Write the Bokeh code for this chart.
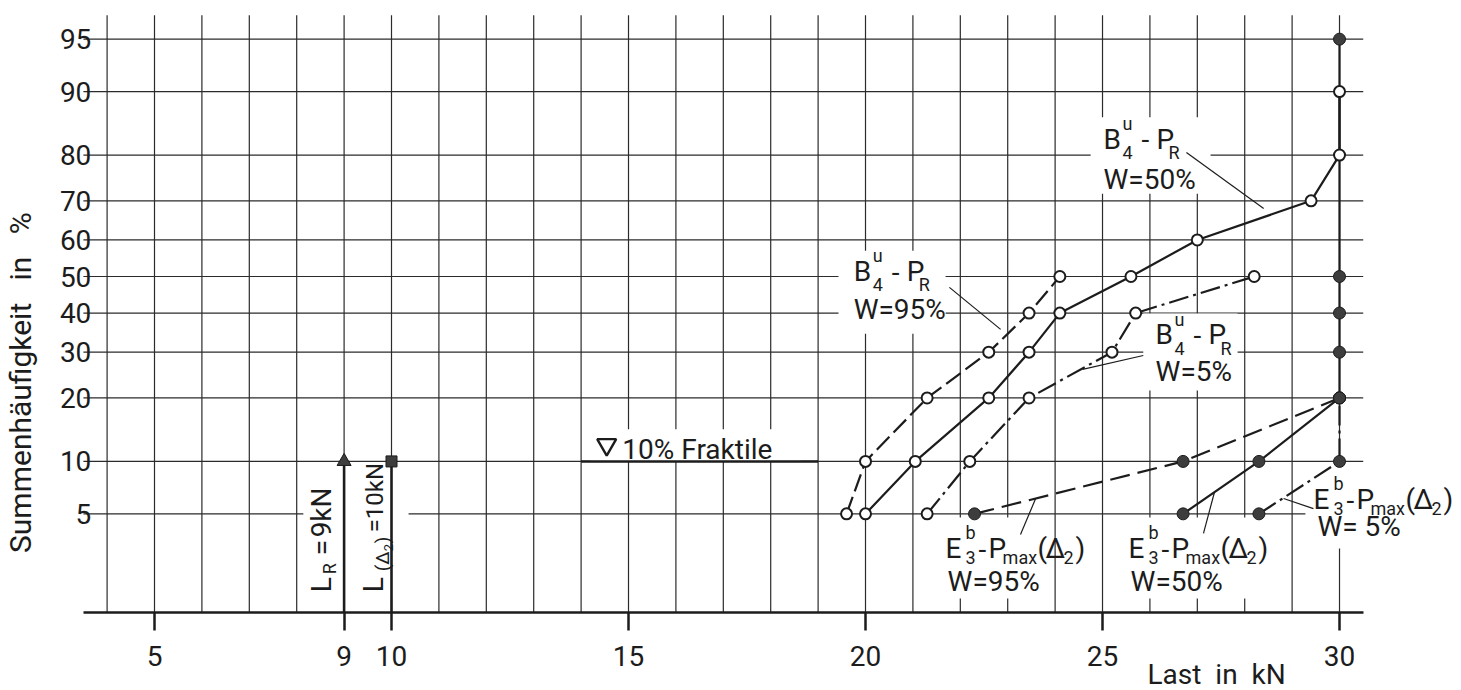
import math
from statistics import NormalDist
from bokeh.plotting import figure
from bokeh.models import Range1d, FixedTicker, CustomJSTickFormatter, Label, BoxAnnotation
from bokeh.embed import file_html
from bokeh.resources import INLINE

# ---------------- data ----------------
x_ticks = [5, 9, 10, 15, 20, 25, 30]
x_grid = list(range(4, 31))
y_tick_pct = [5, 10, 20, 30, 40, 50, 60, 70, 80, 90, 95]
y_tick_labels = ["5", "10", "20", "30", "40", "50", "60", "70", "80", "90", "95"]

# B4u - PR series (open circles)
b4_95_x = [19.6, 20.0, 21.3, 22.6, 23.45, 24.1]
b4_95_p = [5, 10, 20, 30, 40, 50]
b4_50_x = [20.0, 21.05, 22.6, 23.45, 24.1, 25.6, 27.0, 29.4, 30.0, 30.0]
b4_50_p = [5, 10, 20, 30, 40, 50, 60, 70, 80, 90]
b4_5_x = [21.3, 22.2, 23.45, 25.2, 25.7, 28.2]
b4_5_p = [5, 10, 20, 30, 40, 50]

# E3b - Pmax(D2) series (filled circles)
e3_95_x = [22.3, 26.7, 30.0]
e3_95_p = [5, 10, 20]
e3_50_x = [26.7, 28.3, 30.0, 30.0, 30.0, 30.0, 30.0]
e3_50_p = [5, 10, 20, 30, 40, 50, 95]
e3_5_x = [28.3, 30.0, 30.0]
e3_5_p = [5, 10, 20]

# reference loads
L_R = 9
L_D2 = 10
ref_level_pct = 10
fraktile_x = [14, 19]
fraktile_pct = 10

# chart area (kN and %)
x_lo, x_hi = 3.5, 30.5
p_lo = 1.0
z_top = 1.81

FONT = "Roboto"
INK = "#1c1c1c"
GRAY = "#3d3d3d"
NB = "\u00a0"

ND = NormalDist()


def z(pct):
    return ND.inv_cdf(pct / 100.0)


p = figure(width=1456, height=690, output_backend="svg", toolbar_location=None,
           x_range=Range1d(1.7511, 32.468), y_range=Range1d(-2.8690, 1.9127),
           min_border_left=0, min_border_right=0, min_border_top=0, min_border_bottom=0)
p.outline_line_color = None
p.background_fill_color = "white"
p.border_fill_color = "white"
p.xgrid.visible = False
p.ygrid.visible = False

# axes drawn at fixed locations inside the canvas
xa = p.xaxis[0]
xa.fixed_location = z(p_lo)
xa.bounds = (x_lo, x_hi)
xa.ticker = FixedTicker(ticks=x_ticks)
xa.axis_line_width = 2.5
xa.axis_line_color = INK
xa.major_tick_out = 18
xa.major_tick_in = 0
xa.major_tick_line_width = 2.5
xa.major_tick_line_color = INK
xa.minor_tick_out = 0
xa.minor_tick_in = 0
xa.major_label_text_font = FONT
xa.major_label_text_font_size = "28px"
xa.major_label_text_color = INK
xa.major_label_standoff = 16

yz = [z(v) for v in y_tick_pct]
ya = p.yaxis[0]
ya.fixed_location = x_lo + 0.21
ya.ticker = FixedTicker(ticks=yz)
ya.formatter = CustomJSTickFormatter(args=dict(t=yz, l=y_tick_labels), code="""
for (let i = 0; i < t.length; i++) { if (Math.abs(t[i] - tick) < 1e-6) return l[i]; }
return '';
""")
ya.axis_line_color = None
ya.major_tick_line_color = None
ya.minor_tick_line_color = None
ya.major_tick_out = 0
ya.major_tick_in = 0
ya.minor_tick_out = 0
ya.minor_tick_in = 0
ya.major_label_standoff = 2
ya.major_label_text_font = FONT
ya.major_label_text_font_size = "28px"
ya.major_label_text_color = INK

# grid lines (drawn through the data scales)
p.segment(x0=x_grid, y0=[z(p_lo)] * len(x_grid), x1=x_grid, y1=[z_top] * len(x_grid),
          line_color="#2b2b2b", line_width=1.2, level="image")
p.segment(x0=[x_lo] * len(yz), y0=yz, x1=[x_hi] * len(yz), y1=yz,
          line_color="#2b2b2b", line_width=1.2, level="image")

# white boxes behind annotation texts (interrupt grid)
boxes = [
    (19.43, 21.69, 34.6, 57.1),
    (24.75, 27.28, 71.7, 86.5),
    (25.86, 27.85, 21.5, 39.9),
    (21.48, 23.90, 1.28, 4.75),
    (25.38, 28.65, 1.28, 4.75),
    (29.28, 30.6, 2.97, 9.51),
    (8.14, 10.36, 1.29, 9.51),
    (14.2, 18.63, 10.0, 14.5),
]
for l, r, b, t in boxes:
    p.add_layout(BoxAnnotation(left=l, right=r, bottom=z(b), top=z(t), fill_color="white",
                               fill_alpha=1.0, line_color=None, level="underlay"))

# reference lines
p.segment(x0=[L_R, L_D2], y0=[z(p_lo)] * 2, x1=[L_R, L_D2], y1=[z(ref_level_pct)] * 2,
          line_color=INK, line_width=2.6)
p.line(fraktile_x, [z(fraktile_pct)] * 2, line_color=INK, line_width=2.6)

# series lines
series = [
    (b4_95_x, b4_95_p, "18 6", False),
    (b4_50_x, b4_50_p, "solid", False),
    (b4_5_x, b4_5_p, "20 5 3 5", False),
    (e3_95_x, e3_95_p, "20 8", True),
    (e3_50_x, e3_50_p, "solid", True),
    (e3_5_x, e3_5_p, "20 5 3 5", True),
]
for xs, ps, dash, filled in series:
    p.line(xs, [z(v) for v in ps], line_color=INK, line_width=2.2, line_dash=dash)
for xs, ps, dash, filled in series:
    ys = [z(v) for v in ps]
    if filled:
        p.scatter(xs, ys, marker="circle", size=12, fill_color=GRAY, line_color=INK, line_width=1)
    else:
        p.scatter(xs, ys, marker="circle", size=11, fill_color="white", line_color=INK, line_width=2)

p.scatter([L_R], [z(ref_level_pct)], marker="triangle", size=14, fill_color=GRAY, line_color=INK, line_width=1)
p.scatter([L_D2], [z(ref_level_pct)], marker="square", size=11, fill_color=GRAY, line_color=INK, line_width=1)
p.scatter([14.54], [z(12.2)], marker="inverted_triangle", size=19, fill_color="white", line_color=INK, line_width=2.4)

# leader lines
leaders = [
    (21.77, 47.0, 22.85, 35.7),
    (26.77, 80.5, 28.40, 68.1),
    (25.86, 29.2, 24.58, 26.0),
    (23.59, 6.2, 23.27, 3.69),
    (27.36, 6.72, 27.13, 3.75),
    (28.82, 6.2, 29.45, 5.39),
]
p.segment(x0=[a[0] for a in leaders], y0=[z(a[1]) for a in leaders],
          x1=[a[2] for a in leaders], y1=[z(a[3]) for a in leaders],
          line_color=INK, line_width=1.2)

ROT = math.pi / 2


def put(x, pct, text, dx=0, dy=0, size=28, angle=0.0, align="left", baseline="alphabetic"):
    c = 0.31 * size if baseline == "alphabetic" else 0.0
    if angle:
        xo, yo = dx - c, dy
    else:
        xo, yo = dx, dy + c
    p.add_layout(Label(x=x, y=z(pct), x_offset=xo, y_offset=yo, text=text, text_font=FONT,
                       text_font_size=f"{size}px", text_color=INK, angle=angle,
                       text_align=align, text_baseline=baseline))


def b4_label(x, pct, wtext, wdy):
    put(x, pct, "B")
    put(x, pct, "u", dx=19, dy=19, size=18)
    put(x, pct, "4", dx=19, dy=-10, size=18)
    put(x, pct, "-", dx=38)
    put(x, pct, "P", dx=53)
    put(x, pct, "R", dx=65, dy=-10, size=18)
    put(x, pct, wtext, dy=wdy)


def e3_label(x, pct, wtext, wdx, wdy):
    put(x, pct, "E")
    put(x, pct, "b", dx=20, dy=19, size=18)
    put(x, pct, "3", dx=20, dy=-6, size=18)
    put(x, pct, "-", dx=33)
    put(x, pct, "P", dx=43)
    put(x, pct, "max", dx=57, dy=-6, size=18)
    put(x, pct, "(", dx=92)
    put(x, pct, "Δ", dx=100)
    put(x, pct, "2", dx=118, dy=-6, size=18)
    put(x, pct, ")", dx=130)
    put(x, pct, wtext, dx=wdx, dy=wdy)


b4_label(19.75, 48.9, "W=95%", -38)
b4_label(25.02, 81.4, "W=50%", -40)
b4_label(26.12, 32.1, "W=5%", -37)
e3_label(21.69, 2.58, "W=95%", 2, -33)
e3_label(25.55, 2.58, "W=50%", 2, -33)
e3_label(29.45, 5.39, "W=" + NB + "5%", 4, -27)

put(14.87, 10.36, "10%" + NB + "Fraktile")

# rotated reference labels
put(8.71, 1.43, "L", angle=ROT)
put(8.71, 1.43, "R", dx=5, dy=18, size=18, angle=ROT)
put(8.71, 1.43, "=", dy=37, angle=ROT)
put(8.71, 1.43, "9kN", dy=55, angle=ROT)
put(9.81, 1.43, "L", angle=ROT)
put(9.81, 1.43, "(Δ", dx=6, dy=21, size=19, angle=ROT)
put(9.81, 1.43, "2", dx=10, dy=41, size=13, angle=ROT)
put(9.81, 1.43, ")", dx=6, dy=49, size=19, angle=ROT)
put(9.81, 1.43, "=10kN", dy=60, size=24, angle=ROT)

# axis titles
put(2.173, 23.1, "Summenhäufigkeit" + NB * 3 + "in" + NB * 3 + "%", size=30, angle=ROT, align="center", baseline="middle")
put(25.95, 0.24, "Last" + NB * 2 + "in" + NB * 2 + "kN")

open("out.html", "w").write(file_html(p, INLINE))
